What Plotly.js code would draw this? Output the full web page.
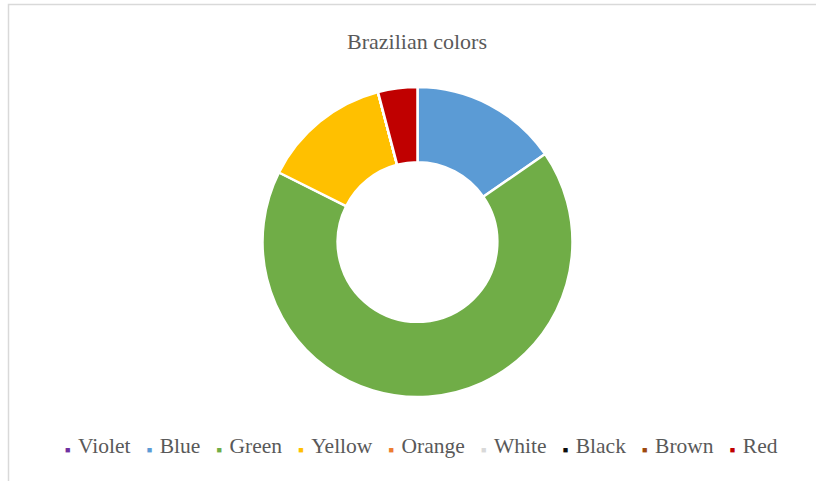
<!DOCTYPE html>
<html>
<head>
<meta charset="utf-8">
<script src="https://cdn.plot.ly/plotly-3.0.1.min.js"></script>
<style>html,body{margin:0;padding:0;background:#fff;}#chart{width:816px;height:481px;}</style>
</head>
<body>
<div id="chart"></div>
<script>
// Data
var categories = ["Violet", "Blue", "Green", "Yellow", "Orange", "White", "Black", "Brown", "Red"];
var values = [0, 15.4, 67.0, 13.5, 0, 0, 0, 0, 4.1];
var colors = ["#7030A0", "#5B9BD5", "#70AD47", "#FFC000", "#ED7D31", "#D9D9D9", "#0D0D0D", "#9E480E", "#C00000"];
var chartTitle = "Brazilian colors";

var W = 816, H = 481;
var cx = 417.5, cy = 242, R = 155;

var pie = {
  type: "pie",
  labels: categories,
  values: values,
  sort: false,
  direction: "clockwise",
  rotation: 0,
  hole: 0.515,
  textinfo: "none",
  hoverinfo: "label+value",
  showlegend: false,
  marker: { colors: colors, line: { color: "#ffffff", width: 2.5 } },
  domain: {
    x: [(cx - R) / W, (cx + R) / W],
    y: [(H - cy - R) / H, (H - cy + R) / H]
  }
};

// Legend built from the category and colour arrays
var nb = "\u00A0";
var parts = categories.map(function (c, i) {
  return "<span style='color:" + colors[i] + ";font-size:9px'>\u25A0" + nb + "</span>" + nb + c;
});
var legendText = parts.join(nb + nb + nb);

var serif = "Liberation Serif, Times New Roman, serif";
var layout = {
  width: W, height: H,
  margin: { l: 0, r: 0, t: 0, b: 0 },
  paper_bgcolor: "#ffffff",
  plot_bgcolor: "#ffffff",
  showlegend: false,
  font: { family: serif, color: "#595959" },
  title: {
    text: chartTitle,
    font: { family: serif, size: 22, color: "#595959" },
    x: 417 / W, xanchor: "center",
    y: (H - 41) / H, yanchor: "middle"
  },
  annotations: [{
    xref: "paper", yref: "paper",
    x: 421.5 / W, y: (H - 446) / H,
    xanchor: "center", yanchor: "middle",
    showarrow: false,
    text: legendText,
    font: { family: serif, size: 21.5, color: "#595959" }
  }],
  shapes: [{
    type: "rect", xref: "paper", yref: "paper",
    x0: 8.5 / W, x1: 1.02, y0: -0.02, y1: (H - 4.5) / H,
    line: { color: "#D9D9D9", width: 1.5 },
    fillcolor: "rgba(0,0,0,0)"
  }]
};

Plotly.newPlot("chart", [pie], layout, { staticPlot: true, displayModeBar: false });
</script>
</body>
</html>
